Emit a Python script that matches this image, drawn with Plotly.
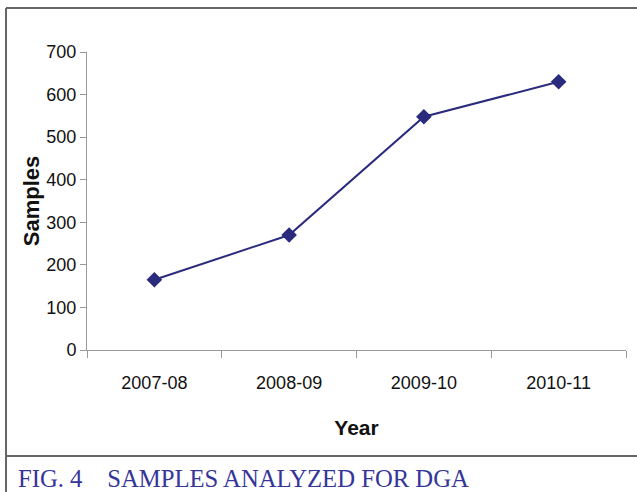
import plotly.graph_objects as go

years = ["2007-08", "2008-09", "2009-10", "2010-11"]
samples = [165, 270, 548, 630]
y_ticks = [0, 100, 200, 300, 400, 500, 600, 700]

W, H = 637, 492
navy = "#2b2b7e"
sans = "Liberation Sans, Arial, sans-serif"

fig = go.Figure()
fig.add_trace(go.Scatter(
    x=years, y=samples, mode="lines+markers",
    line=dict(color=navy, width=2),
    marker=dict(symbol="diamond", size=12, color=navy),
    showlegend=False, cliponaxis=False, hoverinfo="skip",
))

fig.update_layout(
    width=W, height=H,
    margin=dict(l=0, r=0, t=0, b=0, autoexpand=False),
    paper_bgcolor="white", plot_bgcolor="white",
    xaxis=dict(
        domain=[87 / W, 626 / W],
        type="category", categoryorder="array", categoryarray=years,
        range=[-0.5, 3.5], automargin=False,
        tickson="boundaries",
        ticks="outside", ticklen=7, tickcolor="#999999", tickwidth=1,
        ticklabelstandoff=16,
        showline=True, linecolor="#999999", linewidth=1,
        showgrid=False, zeroline=False,
        tickfont=dict(family=sans, size=18, color="#111111"),
        title=dict(text="<b>Year</b>", font=dict(family=sans, size=21, color="#111111"), standoff=28),
        anchor="y",
    ),
    yaxis=dict(
        domain=[(H - 350) / H, (H - 52) / H],
        range=[0, 700], tickvals=y_ticks, automargin=False,
        ticks="outside", ticklen=6, tickcolor="#999999", tickwidth=1,
        showline=True, linecolor="#999999", linewidth=1,
        showgrid=False, zeroline=False,
        tickfont=dict(family=sans, size=18, color="#111111"),
        title=dict(text="<b>Samples</b>", font=dict(family=sans, size=22, color="#111111"), standoff=0),
        anchor="x",
    ),
    shapes=[
        dict(type="line", xref="paper", yref="paper", x0=6 / W, x1=1.0, y0=1 - 8 / H, y1=1 - 8 / H,
             line=dict(color="#666666", width=2)),
        dict(type="line", xref="paper", yref="paper", x0=6 / W, x1=6 / W, y0=0, y1=1 - 8 / H,
             line=dict(color="#666666", width=2)),
        dict(type="line", xref="paper", yref="paper", x0=6 / W, x1=1.0, y0=1 - 456 / H, y1=1 - 456 / H,
             line=dict(color="#666666", width=2)),
    ],
    annotations=[
        dict(text="FIG. 4&nbsp;&nbsp;&nbsp; SAMPLES ANALYZED FOR DGA", xref="paper", yref="paper",
             x=16 / W, y=1 - 478 / H, xanchor="left", yanchor="middle", showarrow=False,
             font=dict(family="Liberation Serif, Times New Roman, serif", size=24.7, color="#35359a")),
    ],
)

fig.write_html("out.html", config={"displayModeBar": False},
               post_script="document.body.style.margin='0';document.body.style.overflow='hidden';")
